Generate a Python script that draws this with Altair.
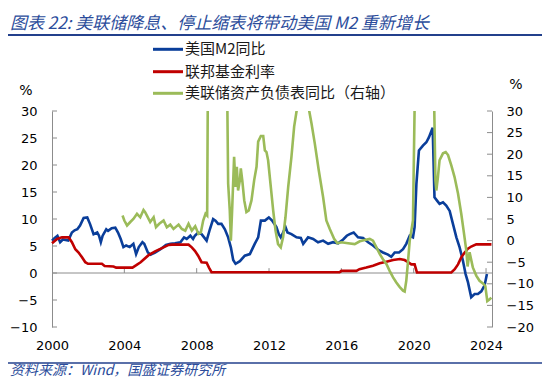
import altair as alt
import pandas as pd

# ---------------- data ----------------
m2_year = [2000.0, 2000.15, 2000.3, 2000.45, 2000.6, 2000.75, 2000.9, 2001.1, 2001.25, 2001.4,
           2001.55, 2001.75, 2001.95, 2002.1, 2002.3, 2002.5, 2002.6, 2002.7, 2002.8, 2003.0,
           2003.1, 2003.3, 2003.5, 2003.65, 2003.8, 2003.95, 2004.1, 2004.3, 2004.5, 2004.65,
           2004.8, 2005.0, 2005.1, 2005.3, 2005.45, 2005.7, 2006.0, 2006.3, 2006.55, 2006.8,
           2007.1, 2007.3, 2007.45, 2007.65, 2007.8, 2007.9, 2008.08, 2008.27, 2008.55, 2008.73,
           2008.91, 2009.04, 2009.19, 2009.37, 2009.56, 2009.74, 2009.89, 2010.02, 2010.15, 2010.39,
           2010.66, 2010.94, 2011.21, 2011.4, 2011.55, 2011.77, 2011.99, 2012.17, 2012.41, 2012.54,
           2012.65, 2012.78, 2012.91, 2013.02, 2013.24, 2013.52, 2013.76, 2013.89, 2014.16, 2014.44,
           2014.71, 2014.99, 2015.27, 2015.54, 2015.82, 2016.1, 2016.3, 2016.46, 2016.68, 2016.92,
           2017.2, 2017.48, 2017.75, 2018.03, 2018.3, 2018.58, 2018.76, 2018.95, 2019.19, 2019.41,
           2019.59, 2019.78, 2019.96, 2020.05, 2020.15, 2020.29, 2020.51, 2020.7, 2020.84, 2021.05,
           2021.15, 2021.29, 2021.43, 2021.62, 2021.8, 2021.99, 2022.17, 2022.36, 2022.54, 2022.72,
           2022.87, 2023.0, 2023.18, 2023.37, 2023.55, 2023.74, 2023.92, 2024.05]
m2_val = [6.0, 6.5, 6.9, 5.7, 6.2, 6.1, 6.0, 7.5, 7.9, 8.1,
          8.8, 10.2, 10.3, 9.1, 7.2, 7.5, 6.9, 5.7, 6.9, 8.1,
          7.8, 8.3, 8.4, 7.5, 6.3, 4.8, 5.1, 4.8, 5.4, 3.5,
          4.8, 5.7, 5.4, 3.8, 3.4, 3.8, 4.4, 5.2, 5.4, 5.5,
          5.7, 6.6, 6.3, 6.9, 6.3, 6.9, 7.5, 7.2, 6.0, 8.1,
          10.0, 9.7, 9.1, 9.1, 8.1, 6.6, 4.75, 2.4, 1.7, 2.2,
          3.2, 3.5, 5.4, 6.6, 9.7, 9.7, 10.3, 9.7, 8.5, 7.2,
          6.6, 7.5, 8.5, 7.5, 7.2, 6.6, 6.5, 5.4, 6.6, 6.3,
          5.7, 6.0, 5.4, 5.7, 5.5, 6.2, 6.9, 7.2, 7.5, 6.6,
          6.5, 5.7, 5.1, 4.3, 3.8, 3.4, 3.0, 3.8, 3.8, 4.4,
          5.4, 6.9, 6.6, 8.5, 16.5, 22.7, 23.6, 24.2, 25.1, 26.9,
          14.0, 13.4, 12.8, 13.1, 12.5, 11.5, 9.1, 6.6, 4.75, 2.3,
          -0.2, -1.7, -4.5, -3.9, -3.9, -3.4, -2.3, -0.2]

ffr_year = [2000.0, 2000.28, 2000.55, 2000.92, 2001.1, 2001.29, 2001.47, 2001.66, 2001.84, 2001.99,
            2002.76, 2002.91, 2003.4, 2003.55, 2004.45, 2004.64, 2004.9, 2005.34, 2005.7, 2006.08,
            2006.45, 2006.63, 2007.55, 2007.73, 2007.9, 2008.08, 2008.27, 2008.55, 2008.68, 2008.82,
            2015.9, 2016.0, 2016.83, 2017.0, 2017.38, 2017.75, 2018.12, 2018.49, 2018.86, 2019.23,
            2019.5, 2019.69, 2019.87, 2020.05, 2020.18, 2022.08, 2022.27, 2022.45, 2022.63, 2022.82,
            2023.0, 2023.18, 2023.46, 2024.3]
ffr_val = [5.5, 6.3, 6.6, 6.6, 5.7, 4.4, 3.8, 2.9, 2.0, 1.7,
           1.7, 1.3, 1.2, 1.0, 1.0, 1.4, 2.0, 3.3, 4.0, 4.6,
           5.2, 5.25, 5.25, 4.75, 4.1, 3.2, 2.0, 1.9, 1.0, 0.15,
           0.15, 0.4, 0.4, 0.7, 1.0, 1.35, 1.8, 2.1, 2.4, 2.6,
           2.4, 2.0, 1.6, 1.6, 0.1, 0.1, 0.7, 1.6, 2.9, 3.8,
           4.5, 4.9, 5.3, 5.3]

bs_year = [2003.9, 2004.0, 2004.15, 2004.33, 2004.5, 2004.7, 2004.88, 2005.06, 2005.15, 2005.25,
           2005.43, 2005.62, 2005.75, 2005.93, 2006.17, 2006.35, 2006.54, 2006.72, 2007.0, 2007.18,
           2007.37, 2007.55, 2007.73, 2007.92, 2008.1, 2008.23, 2008.36, 2008.49, 2008.58, 2008.7,
           2008.9, 2009.2, 2009.5, 2009.6, 2009.74, 2009.83, 2009.89, 2009.96, 2010.07, 2010.15,
           2010.22, 2010.29, 2010.39, 2010.44, 2010.52, 2010.63, 2010.75, 2010.88, 2011.03, 2011.18,
           2011.31, 2011.4, 2011.55, 2011.68, 2011.77, 2011.86, 2011.95, 2012.1, 2012.23, 2012.36,
           2012.5, 2012.65, 2012.78, 2012.91, 2013.06, 2013.24, 2013.39, 2013.6, 2013.85, 2014.05,
           2014.35, 2014.53, 2014.75, 2014.99, 2015.17, 2015.36, 2015.6, 2015.78, 2016.0, 2016.37,
           2016.74, 2017.02, 2017.29, 2017.57, 2017.75, 2017.94, 2018.12, 2018.3, 2018.49, 2018.67,
           2018.86, 2019.04, 2019.22, 2019.41, 2019.5, 2019.59, 2019.69, 2019.78, 2019.87, 2019.96,
           2020.1, 2020.3, 2020.6, 2020.9, 2021.1, 2021.2, 2021.25, 2021.34, 2021.43, 2021.62,
           2021.77, 2021.9, 2022.08, 2022.26, 2022.45, 2022.63, 2022.76, 2022.91, 2022.98, 2023.09,
           2023.27, 2023.46, 2023.64, 2023.83, 2023.96, 2024.07, 2024.2, 2024.29]
bs_val = [5.8, 4.65, 3.5, 4.3, 5.0, 6.2, 5.4, 7.1, 6.6, 5.8,
          4.3, 5.4, 3.1, 3.9, 4.65, 3.1, 3.7, 2.7, 3.7, 2.7,
          2.3, 3.9, 2.3, 3.3, 1.55, 1.9, 4.65, 6.2, 5.8, 100.0,
          145.0, 150.0, 90.0, 70.0, 13.2, 7.0, 0.0, 7.0, 19.4, 12.4,
          17.1, 11.6, 14.0, 16.7, 14.0, 9.3, 6.6, 7.0, 9.3, 14.0,
          17.1, 22.9, 24.2, 24.2, 20.9, 20.5, 18.6, 12.4, 7.0, 2.3,
          -0.8, -1.55, 0.8, 5.4, 12.4, 19.4, 26.4, 32.0, 36.0, 34.0,
          27.1, 22.5, 16.3, 10.1, 4.65, 2.7, 0.4, -0.6, -0.4, -0.6,
          -0.8, -0.15, 0.15, 0.4, 0.0, -1.55, -3.1, -4.3, -5.4, -7.0,
          -8.5, -9.7, -10.7, -11.6, -11.8, -9.3, -4.65, 0.0, 2.3, 4.65,
          45.0, 75.0, 80.0, 60.0, 40.0, 14.0, 11.6, 14.7, 18.6, 20.2,
          20.5, 19.8, 17.4, 14.7, 10.9, 6.2, 2.3, -2.3, -6.0, -2.7,
          -6.2, -8.1, -9.3, -9.9, -10.5, -14.0, -13.6, -13.2]

x_ticks = [2000, 2004, 2008, 2012, 2016, 2020, 2024]
left_ticks = [-10, -5, 0, 5, 10, 15, 20, 25, 30]
right_ticks = [-20, -15, -10, -5, 0, 5, 10, 15, 20, 25, 30]

title_text = "图表 22:  美联储降息、停止缩表将带动美国 M2 重新增长"
source_text = "资料来源：Wind，国盛证券研究所"
legend_labels = ["美国M2同比", "联邦基金利率", "美联储资产负债表同比（右轴）"]

# ---------------- styles ----------------
BLUE = "#0A3E9A"
RED = "#C00000"
GREEN = "#9BBB59"
LEGEND_COLORS = [BLUE, RED, GREEN]
AXIS_GRAY = "#8C8C8C"
HEAD_BLUE = "#2B4C9B"
LINE_BLUE = "#23408C"
FONT_NUM = "DejaVu Sans"
FONT_CJK = "Noto Sans CJK SC"
W, H = 440, 216

xscale = alt.Scale(domain=[2000, 2024.33], nice=False, zero=False)
lscale = alt.Scale(domain=[-10, 30], nice=False, zero=False)
rscale = alt.Scale(domain=[-20, 30], nice=False, zero=False)

m2_df = pd.DataFrame({"year": m2_year, "v": m2_val})
ffr_df = pd.DataFrame({"year": ffr_year, "v": ffr_val})
bs_df = pd.DataFrame({"year": bs_year, "v": bs_val})

x_axis = alt.Axis(values=x_ticks, format="d", labelFontSize=13, labelFont=FONT_NUM,
                  labelColor="#000000", domain=False, ticks=False, grid=False,
                  labelPadding=12, labelFlush=False, labelOverlap=False, title=None)
left_axis = alt.Axis(values=left_ticks, labelFontSize=13, labelFont=FONT_NUM,
                     labelColor="#000000", domain=True, domainColor=AXIS_GRAY,
                     ticks=False, grid=False, labelPadding=15, labelFlush=False,
                     labelOverlap=False, title=None)
right_axis = alt.Axis(orient="right", values=right_ticks, labelFontSize=13,
                      labelFont=FONT_NUM, labelColor="#000000", domain=True,
                      domainColor=AXIS_GRAY, ticks=False, grid=False, labelPadding=14,
                      labelFlush=False, labelOverlap=False, title=None)

zero_line = alt.Chart(pd.DataFrame({"v": [0]})).mark_rule(color=AXIS_GRAY, strokeWidth=1).encode(
    y=alt.Y("v:Q", scale=lscale, axis=left_axis), x=alt.value(0), x2=alt.value(W))

xtick_df = pd.DataFrame({"year": x_ticks[1:], "v": [0] * (len(x_ticks) - 1),
                         "v2": [0.9] * (len(x_ticks) - 1)})
x_tick_marks = alt.Chart(xtick_df).mark_rule(color=AXIS_GRAY, strokeWidth=1).encode(
    x=alt.X("year:Q", scale=xscale, axis=x_axis),
    y=alt.Y("v:Q", scale=lscale, axis=left_axis), y2="v2:Q")

left_tick_marks = alt.Chart(pd.DataFrame({"v": left_ticks})).mark_rule(color=AXIS_GRAY, strokeWidth=1).encode(
    y=alt.Y("v:Q", scale=lscale, axis=left_axis), x=alt.value(0), x2=alt.value(5))

right_tick_marks = alt.Chart(pd.DataFrame({"v": right_ticks})).mark_rule(color=AXIS_GRAY, strokeWidth=1).encode(
    y=alt.Y("v:Q", scale=rscale, axis=right_axis), x=alt.value(W - 5), x2=alt.value(W))

blue = alt.Chart(m2_df).mark_line(color=BLUE, strokeWidth=2.6).encode(
    x=alt.X("year:Q", scale=xscale, axis=x_axis),
    y=alt.Y("v:Q", scale=lscale, axis=left_axis))
red = alt.Chart(ffr_df).mark_line(color=RED, strokeWidth=2.6).encode(
    x=alt.X("year:Q", scale=xscale, axis=x_axis),
    y=alt.Y("v:Q", scale=lscale, axis=left_axis))
green = alt.Chart(bs_df).mark_line(color=GREEN, strokeWidth=2.6, clip=True).encode(
    x=alt.X("year:Q", scale=xscale, axis=x_axis),
    y=alt.Y("v:Q", scale=rscale, axis=right_axis))


def text_layer(s, x, y, size, color, font=FONT_CJK, italic=False, align="left"):
    kw = dict(align=align, baseline="middle", font=font, fontSize=size, color=color)
    if italic:
        kw["fontStyle"] = "italic"
    return alt.Chart(pd.DataFrame({"s": [s]})).mark_text(**kw).encode(
        text="s:N", x=alt.value(x), y=alt.value(y))


annots = [
    text_layer(title_text, -42, -87, 17, HEAD_BLUE, italic=True),
    alt.Chart(pd.DataFrame({"a": [0]})).mark_rule(color=LINE_BLUE, strokeWidth=2).encode(
        x=alt.value(-44), x2=alt.value(490), y=alt.value(-76)),
    alt.Chart(pd.DataFrame({"a": [0]})).mark_rule(color=LINE_BLUE, strokeWidth=1.5).encode(
        x=alt.value(-44), x2=alt.value(490), y=alt.value(252)),
    text_layer(source_text, -42, 260, 14, HEAD_BLUE, italic=True),
    text_layer("%", -26, -20, 14, "#000000", font=FONT_NUM, align="center"),
    text_layer("%", 464, -26, 14, "#000000", font=FONT_NUM, align="center"),
]
legend_rows = [-61.7, -39.3, -17.7]
for lab, col, yy in zip(legend_labels, LEGEND_COLORS, legend_rows):
    annots.append(alt.Chart(pd.DataFrame({"a": [0]})).mark_rule(color=col, strokeWidth=3).encode(
        x=alt.value(101), x2=alt.value(131), y=alt.value(yy)))
    annots.append(text_layer(lab, 133, yy, 15, "#1A1A1A"))

left_layer = alt.layer(zero_line, x_tick_marks, left_tick_marks, blue, red, *annots)
right_layer = alt.layer(right_tick_marks, green)

chart = alt.layer(left_layer, right_layer).resolve_scale(y="independent").properties(
    width=W, height=H,
    autosize=alt.AutoSizeParams(type="none"),
    padding={"left": 44, "top": 103, "right": 50, "bottom": 53},
    background="white",
).configure_view(stroke=None)

chart.save("out.html", embed_options={"renderer": "svg", "actions": False})
